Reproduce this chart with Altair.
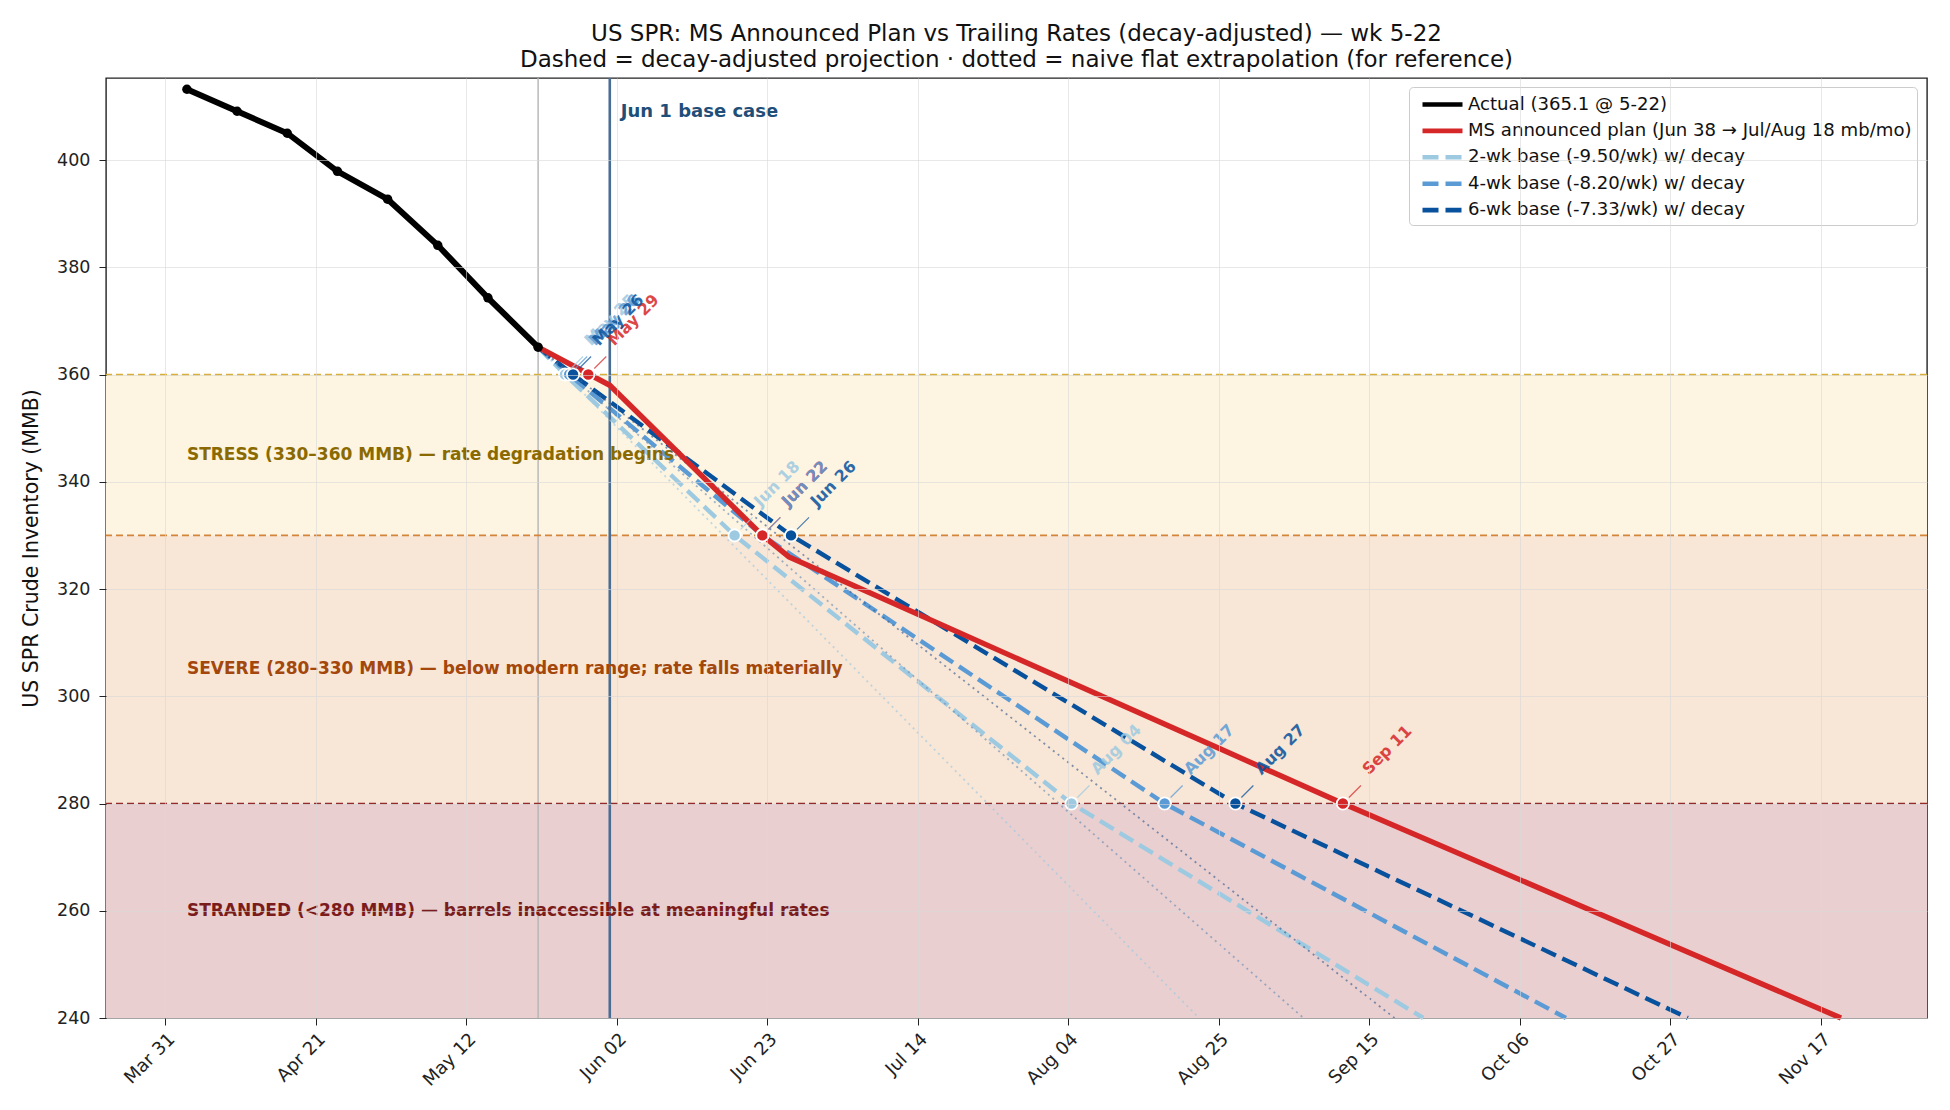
import altair as alt
import pandas as pd

# ---------------- data ----------------
SERIES = [
    "Actual (365.1 @ 5-22)",
    "MS announced plan (Jun 38 → Jul/Aug 18 mb/mo)",
    "2-wk base (-9.50/wk) w/ decay",
    "4-wk base (-8.20/wk) w/ decay",
    "6-wk base (-7.33/wk) w/ decay",
]
COLORS = ["#000000", "#d62728", "#9ecae1", "#5b9bd5", "#08519c"]
DASHES = [[400, 0], [400, 0], [16, 7], [16, 7], [16, 7]]

actual_dates = ["2026-04-03T00:00", "2026-04-10T00:00", "2026-04-17T00:00", "2026-04-24T00:00",
                "2026-05-01T00:00", "2026-05-08T00:00", "2026-05-15T00:00", "2026-05-22T00:00"]
actual_vals = [413.2, 409.1, 405.0, 397.9, 392.7, 384.1, 374.3, 365.1]

plan_dates = ["2026-05-22T00:00", "2026-06-01T00:00", "2026-06-22T07:00",
              "2026-06-26T00:00", "2026-09-11T07:00", "2026-11-19T19:00"]
plan_vals = [365.1, 358.0, 330.0, 326.0, 280.0, 240.0]

p2_dates = ["2026-05-22T00:00", "2026-05-25T18:00", "2026-06-18T10:00", "2026-08-04T10:00", "2026-09-22T12:00"]
p2_vals = [365.1, 360.0, 330.0, 280.0, 240.0]
p4_dates = ["2026-05-22T00:00", "2026-05-26T08:00", "2026-06-22T07:00", "2026-08-17T10:00", "2026-10-12T10:00"]
p4_vals = [365.1, 360.0, 330.0, 280.0, 240.0]
p6_dates = ["2026-05-22T00:00", "2026-05-26T21:00", "2026-06-26T07:00", "2026-08-27T07:00", "2026-10-29T10:00"]
p6_vals = [365.1, 360.0, 330.0, 280.0, 240.0]

# naive flat extrapolations (dotted)
naive_series = ["2-wk", "4-wk", "6-wk"]
naive_colors = ["#9ecae1", "#6f8fb5", "#3f5f8f"]
naive_start = ["2026-05-22T00:00"] * 3
naive_start_vals = [365.1, 365.1, 365.1]
naive_end = ["2026-08-22T05:00", "2026-09-05T19:00", "2026-09-18T12:00"]
naive_end_vals = [240.0, 240.0, 240.0]

# threshold crossings (plan first, then 2/4/6-wk on top)
cross_dates = ["2026-05-29T00:00", "2026-06-22T07:00", "2026-09-11T07:00",
               "2026-05-25T18:00", "2026-06-18T10:00", "2026-08-04T10:00",
               "2026-05-26T08:00", "2026-06-22T07:00", "2026-08-17T10:00",
               "2026-05-26T21:00", "2026-06-26T07:00", "2026-08-27T07:00"]
cross_vals = [360, 330, 280, 360, 330, 280, 360, 330, 280, 360, 330, 280]
cross_labels = ["May 29", "Jun 22", "Sep 11", "May 25", "Jun 18", "Aug 04",
                "May 26", "Jun 22", "Aug 17", "May 26", "Jun 26", "Aug 27"]
cross_colors = ["#d62728"] * 3 + ["#9ecae1"] * 3 + ["#5b9bd5"] * 3 + ["#08519c"] * 3
point_order = [20, 21, 22, 0, 1, 2, 3, 4, 5, 6, 7, 8]   # plan points drawn on top

# zones
zone_lo = [330, 280, 240]
zone_hi = [360, 330, 280]
zone_fill = ["#fdf4e1", "#f8e6d6", "#e9cfd0"]
zone_line_vals = [360, 330, 280]
zone_line_colors = ["#d9ae3a", "#d4853a", "#952a2a"]
zone_text = ["STRESS (330–360 MMB) — rate degradation begins",
             "SEVERE (280–330 MMB) — below modern range; rate falls materially",
             "STRANDED (<280 MMB) — barrels inaccessible at meaningful rates"]
zone_text_vals = [345, 305, 260]
zone_text_colors = ["#8a6a00", "#a3470c", "#7b1c1c"]
zone_text_date = "2026-04-03T00:00"

vline_dates = ["2026-05-22T00:00", "2026-06-01T00:00"]
vline_colors = ["#b5b5b5", "#4a6d94"]
vline_widths = [1.4, 2.6]

base_label = "Jun 1 base case"
base_label_date = "2026-06-01T00:00"
base_label_val = 409.0

tick_dates = [(3, 31), (4, 21), (5, 12), (6, 2), (6, 23), (7, 14), (8, 4),
              (8, 25), (9, 15), (10, 6), (10, 27), (11, 17)]
y_ticks = [240, 260, 280, 300, 320, 340, 360, 380, 400]

# ---------------- tables ----------------
def line_df(dates, vals, s):
    return pd.DataFrame({"date": dates, "value": vals, "series": s})

proj_df = pd.concat([line_df(p2_dates, p2_vals, SERIES[2]),
                     line_df(p4_dates, p4_vals, SERIES[3]),
                     line_df(p6_dates, p6_vals, SERIES[4])])
plan_df = line_df(plan_dates, plan_vals, SERIES[1])
act_df = line_df(actual_dates, actual_vals, SERIES[0])

naive_rows = []
for i in range(3):
    naive_rows.append({"date": naive_start[i], "value": naive_start_vals[i], "s": naive_series[i], "color": naive_colors[i]})
    naive_rows.append({"date": naive_end[i], "value": naive_end_vals[i], "s": naive_series[i], "color": naive_colors[i]})
naive_df = pd.DataFrame(naive_rows)

cross_df = pd.DataFrame({"date": cross_dates, "value": cross_vals, "label": cross_labels,
                         "color": cross_colors, "order": list(range(len(cross_dates))),
                         "porder": point_order})
zones_df = pd.DataFrame({"lo": zone_lo, "hi": zone_hi, "fill": zone_fill})
zlines_df = pd.DataFrame({"value": zone_line_vals, "color": zone_line_colors})
ztext_df = pd.DataFrame({"date": [zone_text_date] * 3, "value": zone_text_vals,
                         "text": zone_text, "color": zone_text_colors})
vline_df = pd.DataFrame({"date": vline_dates, "color": vline_colors, "w": vline_widths})
base_df = pd.DataFrame({"date": [base_label_date], "value": [base_label_val], "text": [base_label]})

# ---------------- scales ----------------
FONT = "DejaVu Sans"
xscale = alt.Scale(domain=[alt.DateTime(year=2026, month=3, date=22, hours=17),
                           alt.DateTime(year=2026, month=12, date=1, hours=19)])
yscale = alt.Scale(domain=[240, 415.3], nice=False, zero=False)
xaxis = alt.Axis(title=None, values=[alt.DateTime(year=2026, month=m, date=d) for m, d in tick_dates],
                 format="%b %d", labelAngle=315, labelAlign="right", labelBaseline="top",
                 labelFontSize=18, labelColor="#222", tickColor="#222", tickSize=7,
                 labelPadding=5, grid=True, gridColor="#d8d8d8", gridOpacity=0.6,
                 domain=False, zindex=1)
yaxis = alt.Axis(title="US SPR Crude Inventory (MMB)", values=y_ticks, labelFontSize=17.5,
                 labelColor="#222", tickColor="#222", tickSize=7, labelPadding=9,
                 titleFontSize=20.5, titleFontWeight="normal", titleColor="#111", titlePadding=15,
                 grid=True, gridColor="#d8d8d8", gridOpacity=0.6, domain=False, zindex=1)

legend = alt.Legend(title=None, orient="none", legendX=1303, legendY=9, labelFontSize=18.1,
                    labelFont=FONT, labelColor="#111", symbolType="M-0.4,0L3.6,0", symbolSize=400,
                    symbolStrokeWidth=4.6, symbolOpacity=1, fillColor="#ffffff", strokeColor="#cccccc",
                    cornerRadius=4, padding=5, rowPadding=4.4, labelOffset=29, labelLimit=700)
cscale = alt.Scale(domain=SERIES, range=COLORS)
dscale = alt.Scale(domain=SERIES, range=DASHES)

X = alt.X("date:T", scale=xscale, axis=xaxis)
Y = alt.Y("value:Q", scale=yscale, axis=yaxis)

# ---------------- layers ----------------
bands = alt.Chart(zones_df).mark_rect().encode(
    y=alt.Y("lo:Q", scale=yscale), y2="hi", color=alt.Color("fill:N", scale=None))

vlines = alt.Chart(vline_df).mark_rule().encode(
    x=alt.X("date:T", scale=xscale), color=alt.Color("color:N", scale=None),
    strokeWidth=alt.StrokeWidth("w:Q", scale=None))

zlines = alt.Chart(zlines_df).mark_rule(strokeDash=[7, 4], strokeWidth=1.7).encode(
    y=alt.Y("value:Q", scale=yscale), color=alt.Color("color:N", scale=None))

ztext = alt.Chart(ztext_df).mark_text(align="left", baseline="middle", fontWeight="bold",
                                      fontSize=17, font=FONT).encode(
    x=alt.X("date:T", scale=xscale), y=alt.Y("value:Q", scale=yscale), text="text:N",
    color=alt.Color("color:N", scale=None))

base_txt = alt.Chart(base_df).mark_text(align="left", baseline="middle", fontWeight="bold",
                                        fontSize=18, font=FONT, color="#1f4e79", xOffset=11).encode(
    x=alt.X("date:T", scale=xscale), y=alt.Y("value:Q", scale=yscale), text="text:N")

naive = alt.Chart(naive_df).mark_line(strokeDash=[2, 4], strokeWidth=1.8, opacity=0.65).encode(
    x=alt.X("date:T", scale=xscale), y=alt.Y("value:Q", scale=yscale), detail="s:N",
    color=alt.Color("color:N", scale=None))

def series_enc():
    return dict(
        color=alt.Color("series:N", scale=cscale, legend=legend, sort=SERIES),
        strokeDash=alt.StrokeDash("series:N", scale=dscale, legend=legend, sort=SERIES),
        opacity=alt.value(1))

proj = alt.Chart(proj_df).mark_line(strokeWidth=4.4).encode(x=X, y=Y, **series_enc())

plan = alt.Chart(plan_df).mark_line(strokeWidth=5.4).encode(
    x=alt.X("date:T", scale=xscale), y=alt.Y("value:Q", scale=yscale), **series_enc())

act = alt.Chart(act_df).mark_line(strokeWidth=6.0).encode(
    x=alt.X("date:T", scale=xscale), y=alt.Y("value:Q", scale=yscale), **series_enc())

act_pts = alt.Chart(act_df).mark_circle(size=90, color="#000000", opacity=1).encode(
    x=alt.X("date:T", scale=xscale), y=alt.Y("value:Q", scale=yscale))

cross_pts = alt.Chart(cross_df).mark_point(filled=True, size=150, stroke="white",
                                          strokeWidth=1.8, opacity=1, shape="circle").encode(
    x=alt.X("date:T", scale=xscale), y=alt.Y("value:Q", scale=yscale),
    fill=alt.Fill("color:N", scale=None), order="porder:Q")

leaders = alt.Chart(cross_df).mark_rule(xOffset=6, yOffset=-6, x2Offset=18, y2Offset=-18,
                                       strokeWidth=1.2, opacity=0.75).encode(
    x=alt.X("date:T", scale=xscale), x2="date:T",
    y=alt.Y("value:Q", scale=yscale), y2="value:Q",
    color=alt.Color("color:N", scale=None))

labels = alt.Chart(cross_df).mark_text(angle=315, align="left", baseline="alphabetic",
                                      fontWeight="bold", fontSize=16, font=FONT,
                                      xOffset=26, yOffset=-28, opacity=0.85).encode(
    x=alt.X("date:T", scale=xscale), y=alt.Y("value:Q", scale=yscale), text="label:N",
    color=alt.Color("color:N", scale=None), order="order:Q")

chart = alt.layer(
    bands, proj, vlines, zlines, ztext, base_txt, naive, plan, act, act_pts,
    cross_pts, leaders, labels
).properties(
    width=1821, height=940,
    autosize=alt.AutoSizeParams(type="none"),
    padding={"left": 106, "top": 78, "right": 23, "bottom": 92},
    title=alt.TitleParams(
        text="US SPR: MS Announced Plan vs Trailing Rates (decay-adjusted) — wk 5-22",
        subtitle="Dashed = decay-adjusted projection · dotted = naive flat extrapolation (for reference)",
        fontSize=23, subtitleFontSize=23, font=FONT, subtitleFont=FONT, fontWeight="normal",
        color="#111", subtitleColor="#111", anchor="middle", offset=5, subtitlePadding=3),
).configure(font=FONT).configure_view(stroke="#222", strokeWidth=1.4
).configure_legend(symbolOpacity=1, symbolStrokeWidth=4.6)

chart.save("out.html", embed_options={"renderer": "svg", "actions": False})
